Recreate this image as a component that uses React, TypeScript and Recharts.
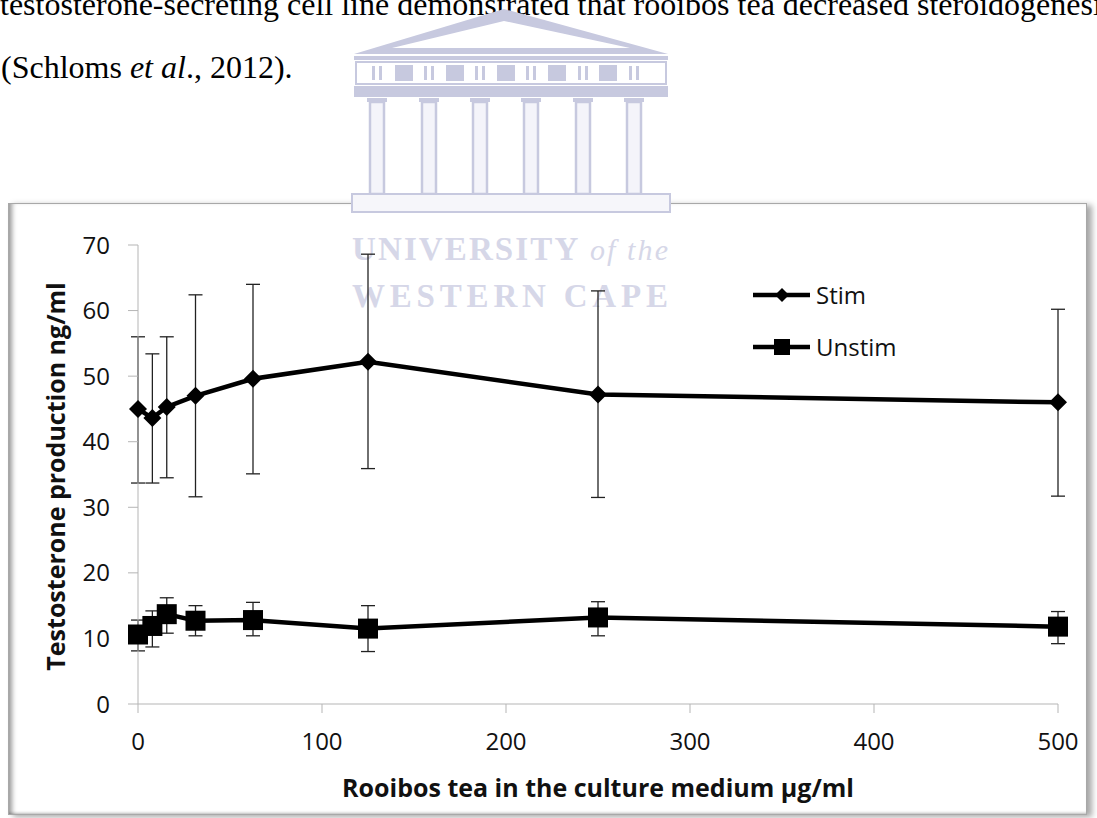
import React from 'react'
import { LineChart, Line, XAxis, YAxis, ErrorBar, Legend } from 'recharts'

// rooibos concentration (µg/ml)
const doses = [0, 7.8125, 15.625, 31.25, 62.5, 125, 250, 500]

// stimulated cells, mean and error bar ends (ng/ml)
const stimMean = [45.0, 43.6, 45.3, 47.0, 49.6, 52.2, 47.2, 46.0]
const stimUpper = [56.0, 53.4, 56.0, 62.4, 64.0, 68.6, 63.0, 60.2]
const stimLower = [33.7, 33.7, 34.5, 31.6, 35.1, 35.9, 31.5, 31.7]

// unstimulated cells
const unstimMean = [10.6, 11.9, 13.7, 12.7, 12.8, 11.5, 13.2, 11.8]
const unstimUpper = [12.8, 14.2, 16.2, 15.0, 15.5, 15.0, 15.6, 14.1]
const unstimLower = [8.1, 8.7, 10.8, 10.4, 10.4, 8.0, 10.4, 9.2]

const xTicks = [0, 100, 200, 300, 400, 500]
const yTicks = [0, 10, 20, 30, 40, 50, 60, 70]

const data = doses.map((dose, i) => ({
  dose,
  stim: stimMean[i],
  stimErr: [stimMean[i] - stimLower[i], stimUpper[i] - stimMean[i]],
  unstim: unstimMean[i],
  unstimErr: [unstimMean[i] - unstimLower[i], unstimUpper[i] - unstimMean[i]],
}))

const FONT = '"Open Sans", sans-serif'
const SERIF = '"Liberation Serif", "Times New Roman", serif'
const AXIS = '#b5b5b5'
const MARK = '#c7c9df'

const Diamond = ({ cx, cy, r = 9 }: { cx: number; cy: number; r?: number }) => (
  <polygon points={`${cx},${cy - r} ${cx + r},${cy} ${cx},${cy + r} ${cx - r},${cy}`} fill="#000" />
)

const Square = ({ cx, cy, s = 10 }: { cx: number; cy: number; s?: number }) => (
  <rect x={cx - s} y={cy - s} width={s * 2} height={s * 2} fill="#000" />
)

const LegendBox = ({ payload }: any) => (
  <svg width={170} height={90}>
    {(payload || []).map((p: any, i: number) => {
      const y = 17 + i * 52
      return (
        <g key={p.value}>
          <line x1={3} x2={60} y1={y} y2={y} stroke="#000" strokeWidth={4.5} />
          {p.dataKey === 'stim' ? <Diamond cx={32} cy={y} r={7} /> : <Square cx={32} cy={y} s={8} />}
          <text x={66} y={y} dy="0.36em" fontSize={24} fontFamily={FONT} fill="#111">{p.value}</text>
        </g>
      )
    })}
  </svg>
)

const Watermark = () => {
  const cols = [377, 429, 480, 531, 583, 634]
  const squares = [404, 455, 506, 557, 608]
  return (
    <svg width={1097} height={330} style={{ position: 'absolute', left: 0, top: 0 }}>
      <polygon points="354,54 504,9 668,54" fill={MARK} />
      <polygon points="392,48 504,21 630,48" fill="#fff" />
      <rect x={354} y={56} width={314} height={4} fill={MARK} />
      <rect x={356} y={62} width={310} height={22} fill="none" stroke={MARK} strokeWidth={2} />
      {cols.map(c => (
        <g key={`t${c}`}>
          <rect x={c - 5} y={66} width={3} height={14} fill={MARK} />
          <rect x={c + 2} y={66} width={3} height={14} fill={MARK} />
        </g>
      ))}
      {squares.map(s => <rect key={`q${s}`} x={s - 9} y={65} width={18} height={16} fill={MARK} />)}
      <rect x={354} y={86} width={314} height={11} fill={MARK} />
      {cols.map(c => (
        <g key={`c${c}`}>
          <rect x={c - 10} y={98} width={20} height={4} fill={MARK} />
          <rect x={c - 7} y={102} width={14} height={92} fill="#f4f4fa" stroke={MARK} strokeWidth={2.5} />
        </g>
      ))}
      <rect x={352} y={194} width={318} height={18} fill="#f6f6fa" stroke={MARK} strokeWidth={2} />
      <text x={352} y={260} fontFamily={SERIF} fontWeight="bold" fontSize={33} fill="#d6d7e8"
        textLength={316} lengthAdjust="spacing">
        UNIVERSITY<tspan fontStyle="italic" fontWeight="normal" fontSize={30}> of the</tspan>
      </text>
      <text x={352} y={307} fontFamily={SERIF} fontWeight="bold" fontSize={33} fill="#d6d7e8"
        textLength={316} lengthAdjust="spacing">
        WESTERN CAPE
      </text>
    </svg>
  )
}

export default function App() {
  return (
    <div style={{ position: 'absolute', left: 0, top: 0, width: 1097, height: 818, overflow: 'hidden', background: '#fff' }}>
      <svg width={1097} height={100} style={{ position: 'absolute', left: 0, top: 0 }}>
        <text x={0} y={15} fontFamily={SERIF} fontSize={32} fill="#000">
          testosterone-secreting cell line demonstrated that rooibos tea decreased steroidogenesis
        </text>
        <text x={1} y={78} fontFamily={SERIF} fontSize={32} fill="#000">
          (Schloms <tspan fontStyle="italic">et al</tspan>., 2012).
        </text>
      </svg>

      <div style={{
        position: 'absolute', left: 8, top: 203, width: 1079, height: 612, boxSizing: 'border-box',
        border: '1px solid #a8a8a8', background: '#fff',
        boxShadow: 'inset 6px 0 5px -3px rgba(0,0,0,0.4), inset 0 -3px 3px -2px rgba(0,0,0,0.25), 5px 2px 6px rgba(0,0,0,0.35)',
      }} />

      <Watermark />

      <div style={{ position: 'absolute', left: 0, top: 0 }}>
        <LineChart width={1097} height={818} data={data} margin={{ top: 245, right: 39, bottom: 0, left: 78 }}>
          <XAxis
            type="number" dataKey="dose" domain={[0, 500]} ticks={xTicks} interval={0}
            height={114} tickSize={9} tickMargin={20}
            axisLine={{ stroke: AXIS }} tickLine={{ stroke: AXIS }}
            tick={{ fill: '#111', fontSize: 24, fontFamily: FONT }}
            label={(p: any) => {
              const vb = p.viewBox || { x: 138, y: 704, width: 920 }
              return (
                <text x={vb.x + vb.width / 2} y={vb.y + 84} dy="0.36em" textAnchor="middle"
                  fontSize={25} fontWeight="bold" fontFamily={FONT} fill="#111">
                  Rooibos tea in the culture medium µg/ml
                </text>
              )
            }}
          />
          <YAxis
            type="number" domain={[0, 70]} ticks={yTicks} interval={0}
            width={60} tickSize={10} tickMargin={18}
            axisLine={{ stroke: AXIS }} tickLine={{ stroke: AXIS }}
            tick={{ fill: '#111', fontSize: 24, fontFamily: FONT }}
            label={(p: any) => {
              const vb = p.viewBox || { x: 78, y: 245, height: 459 }
              const cx = vb.x - 22
              const cy = vb.y + vb.height / 2 + 2
              return (
                <text x={cx} y={cy} dy="0.36em" textAnchor="middle" transform={`rotate(-90 ${cx} ${cy})`}
                  fontSize={25} fontWeight="bold" fontFamily={FONT} fill="#111">
                  Testosterone production ng/ml
                </text>
              )
            }}
          />
          <Legend
            layout="vertical" align="center" verticalAlign="middle"
            wrapperStyle={{ left: 750, top: 278, width: 170, height: 90 }}
            content={(p: any) => <LegendBox payload={p.payload} />}
          />
          <Line
            type="linear" dataKey="stim" name="Stim" stroke="#000" strokeWidth={4.5}
            isAnimationActive={false}
            dot={(p: any) => <Diamond key={`s${p.index}`} cx={p.cx} cy={p.cy} />}
          >
            <ErrorBar dataKey="stimErr" direction="y" width={7} stroke="#222" strokeWidth={1.3} />
          </Line>
          <Line
            type="linear" dataKey="unstim" name="Unstim" stroke="#000" strokeWidth={4.5}
            isAnimationActive={false}
            dot={(p: any) => <Square key={`u${p.index}`} cx={p.cx} cy={p.cy} />}
          >
            <ErrorBar dataKey="unstimErr" direction="y" width={7} stroke="#222" strokeWidth={1.3} />
          </Line>
        </LineChart>
      </div>
    </div>
  )
}
